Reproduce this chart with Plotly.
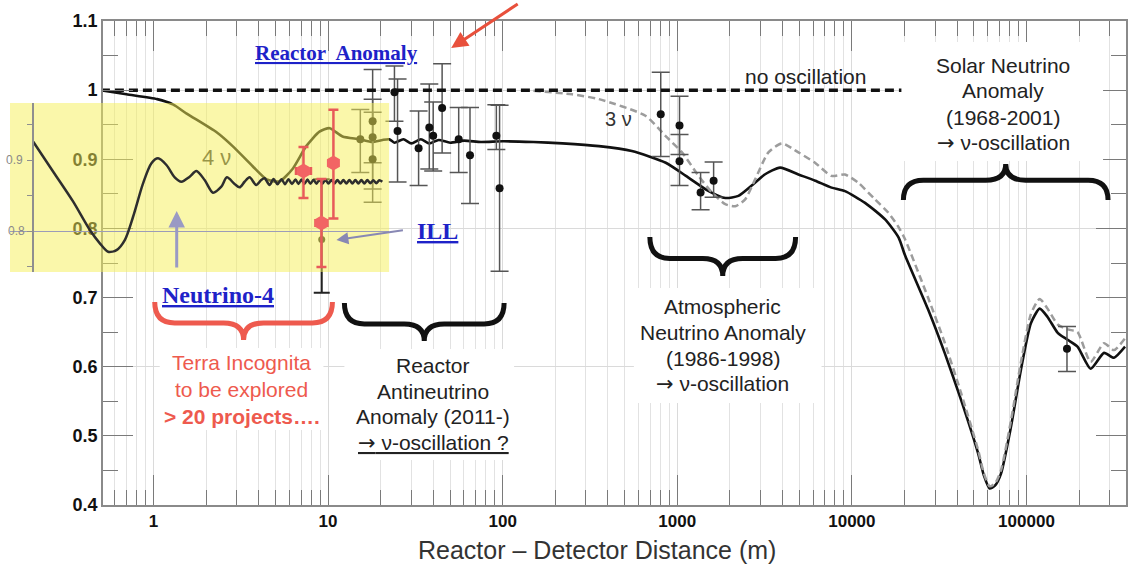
import plotly.graph_objects as go

# ---- data ----
# main oscillation curve (4 nu fit), distance in m
main_x = [0.5, 0.7, 1.05, 1.3, 1.55, 2.3, 2.84, 3.7, 4.45, 5.27, 6.26, 7.5, 8.93, 10.2, 12.1,
          15.1, 17.9, 20.5, 22.4, 24, 27, 30, 34, 38, 43, 50, 60, 75, 100, 150, 220, 356, 549,
          859, 1120, 1513, 1887, 2240, 2670, 3170, 3880, 4940, 6170, 7650, 9130, 11900, 15500,
          18500, 20100, 27300, 34000, 42200, 52800, 57000, 61500, 66000, 71400, 81500, 93000,
          106000, 119000, 132000, 151000, 172000, 196000, 233000, 278000, 317000, 367000]
main_y = [1.0, 0.994, 0.987, 0.979, 0.966, 0.939, 0.919, 0.890, 0.871, 0.868, 0.886, 0.919, 0.940,
          0.945, 0.933, 0.929, 0.925, 0.928, 0.929, 0.924, 0.929, 0.923, 0.929, 0.923, 0.928,
          0.924, 0.927, 0.925, 0.926, 0.925, 0.923, 0.919, 0.912, 0.895, 0.876, 0.854, 0.844,
          0.847, 0.862, 0.878, 0.888, 0.878, 0.869, 0.859, 0.854, 0.837, 0.813, 0.787, 0.762,
          0.683, 0.620, 0.552, 0.475, 0.443, 0.424, 0.428, 0.445, 0.513, 0.596, 0.663, 0.684,
          0.672, 0.649, 0.639, 0.629, 0.597, 0.620, 0.613, 0.629]

# 3 nu curve (grey dashed)
nu3_x = [150, 250, 356, 657, 855, 1064, 1324, 1578, 1883, 2147, 2448, 2792, 3326, 3964, 4940,
         6150, 7650, 9130, 10890, 13560, 16140, 18400, 20100, 27300, 34000, 42200, 52800, 57000,
         61500, 66000, 71400, 81500, 93000, 106000, 119000, 132000, 151000, 172000, 196000,
         233000, 278000, 317000, 367000]
nu3_y = [0.999, 0.994, 0.987, 0.963, 0.934, 0.910, 0.876, 0.852, 0.835, 0.832, 0.842, 0.871,
         0.910, 0.923, 0.910, 0.895, 0.876, 0.878, 0.866, 0.842, 0.823, 0.803, 0.785, 0.700,
         0.635, 0.562, 0.480, 0.446, 0.427, 0.431, 0.450, 0.522, 0.607, 0.676, 0.698, 0.684,
         0.661, 0.654, 0.650, 0.607, 0.634, 0.624, 0.641]

no_osc_x = [0.5, 21000]
no_osc_y = [1.0, 1.0]

# measurements
pt_x = [15.3, 18, 18, 18, 24, 25, 33, 38, 40, 45, 56, 65, 92, 96, 804, 1030, 1030, 1360, 1615, 170600]
pt_y = [0.929, 0.955, 0.932, 0.900, 0.997, 0.941, 0.916, 0.946, 0.934, 0.974, 0.929, 0.906,
        0.934, 0.858, 0.965, 0.949, 0.897, 0.852, 0.869, 0.626]
pt_hi = [0.043, 0.075, 0.055, 0.068, 0.038, 0.075, 0.054, 0.063, 0.049, 0.064, 0.046, 0.069,
         0.045, 0.12, 0.061, 0.042, 0.039, 0.029, 0.027, 0.032]
pt_lo = [0.048, 0.06, 0.075, 0.062, 0.042, 0.074, 0.054, 0.06, 0.051, 0.065, 0.048, 0.07,
         0.02, 0.12, 0.061, 0.042, 0.035, 0.025, 0.024, 0.033]

ill_x = [9.2]
ill_y = [0.784]
ill_hi = [0.087]
ill_lo = [0.077]

# Neutrino-4 inset (own L/E-like units)
n4c_x = [0.233, 0.433, 0.633, 0.80, 0.90, 0.983, 1.067, 1.15, 1.233, 1.333, 1.417, 1.483, 1.567,
         1.65, 1.717, 1.80, 1.867, 1.95, 2.033, 2.117, 2.173, 2.25, 2.30, 2.35, 2.40, 2.467,
         2.517, 2.55, 2.60, 2.64, 2.68, 2.72, 2.755, 2.79, 2.825, 2.86, 2.89, 2.92, 2.95, 2.98,
         3.01, 3.04, 3.07, 3.10, 3.13, 3.16, 3.19, 3.22, 3.25, 3.28, 3.31, 3.34, 3.37, 3.40,
         3.43, 3.46, 3.49, 3.52, 3.55, 3.58, 3.61, 3.64, 3.67, 3.70, 3.73]
n4c_y = [0.9258, 0.8835, 0.8413, 0.8014, 0.7827, 0.7708, 0.7732, 0.7873, 0.8201, 0.8672, 0.8954,
         0.9024, 0.893, 0.8756, 0.8694, 0.8765, 0.8845, 0.8718, 0.854, 0.8624, 0.8756, 0.8662,
         0.8615, 0.8694, 0.8756, 0.8648, 0.8718, 0.8742, 0.8648, 0.8732, 0.8658, 0.8730,
         0.8660, 0.8728, 0.8662, 0.8726, 0.8663, 0.8725, 0.8664, 0.8724, 0.8665, 0.8723,
         0.8666, 0.8722, 0.8667, 0.8721, 0.8668, 0.8720, 0.8669, 0.8719, 0.8669, 0.8719,
         0.8670, 0.8718, 0.8670, 0.8718, 0.8671, 0.8717, 0.8671, 0.8717, 0.8672, 0.8716,
         0.8672, 0.8716, 0.8694]

n4_x = [2.94, 3.12, 3.24]
n4_y = [0.8845, 0.8113, 0.8958]
n4_hi = [0.034, 0.062, 0.075]
n4_lo = [0.038, 0.062, 0.078]
n4_xerr = [0.075, 0.06, 0.0]

x_range_log = [-0.29, 5.57]
inset_y_range = [0.7423, 0.9803]
inset_x_range = [0, 3.8]

# text blocks
solar_lines = ["Solar Neutrino", "Anomaly", "(1968-2001)", "→ ν-oscillation"]
atmo_lines = ["Atmospheric", "Neutrino Anomaly", "(1986-1998)", "→ ν-oscillation"]
reactor_lines = ["Reactor", "Antineutrino", "Anomaly (2011-)", "<u>→ ν-oscillation ?</u>"]
terra_lines = ["Terra Incognita", "to be explored", "<b>&gt; 20 projects….</b>"]

# ---- page geometry ----
W, H = 1131, 573
ML, MR, MT, MB = 8, 3, 21, 68
PW = W - ML - MR
PH = H - MT - MB


def px(x):
    return (x - ML) / PW


def py(y):
    return (H - MB - y) / PH


def brace(x0, x1, y0, y1):
    # curly brace, ends at y0, tip at y1 (pixel coords)
    xm = (x0 + x1) / 2
    ym = y0 + (y1 - y0) * 0.55
    w = 20

    def P(a, b):
        return f"{px(a):.5f},{py(b):.5f}"
    return (f"M {P(x0, y0)} Q {P(x0, ym)} {P(x0 + w, ym)} L {P(xm - w, ym)} "
            f"Q {P(xm, ym)} {P(xm, y1)} Q {P(xm, ym)} {P(xm + w, ym)} "
            f"L {P(x1 - w, ym)} Q {P(x1, ym)} {P(x1, y0)}")


SANS = "Liberation Sans"
SERIF = "Liberation Serif"
BLUE = "#1e22c8"
RED = "#ee5a4e"

fig = go.Figure()

fig.add_trace(go.Scatter(x=main_x, y=main_y, mode="lines",
                         line=dict(color="#111", width=2.6, shape="spline", smoothing=0.6)))
fig.add_trace(go.Scatter(x=nu3_x, y=nu3_y, mode="lines",
                         line=dict(color="#9c9c9c", width=2.5, dash="7px,4px", shape="spline",
                                   smoothing=0.6)))
fig.add_trace(go.Scatter(x=no_osc_x, y=no_osc_y, mode="lines", yaxis="y2",
                         line=dict(color="#111", width=3.5, dash="9px,5px")))
fig.add_trace(go.Scatter(x=pt_x, y=pt_y, mode="markers",
                         marker=dict(color="#111", size=8),
                         error_y=dict(type="data", symmetric=False, array=pt_hi, arrayminus=pt_lo,
                                      color="#555", thickness=1.5, width=9)))
fig.add_trace(go.Scatter(x=ill_x, y=ill_y, mode="markers",
                         marker=dict(color="#222", size=7),
                         error_y=dict(type="data", symmetric=False, array=ill_hi, arrayminus=ill_lo,
                                      color="#222", thickness=2, width=8)))
fig.add_trace(go.Scatter(x=[2.30], y=[0.899], mode="text", text=["4 ν"],
                         textfont=dict(family=SANS, size=22, color="#3a3a3a")))

# yellow Neutrino-4 inset
fig.add_trace(go.Scatter(x=[0, 1, 1, 0, 0], y=[0, 0, 1, 1, 0], xaxis="x3", yaxis="y3",
                         mode="lines", fill="toself", fillcolor="rgba(245,239,85,0.5)",
                         line=dict(width=0)))
fig.add_trace(go.Scatter(x=n4c_x, y=n4c_y, xaxis="x4", yaxis="y4", mode="lines",
                         line=dict(color="#2e2e2e", width=2.5, shape="spline", smoothing=0.8)))
fig.add_trace(go.Scatter(x=n4_x, y=n4_y, xaxis="x4", yaxis="y4", mode="markers",
                         marker=dict(color="#f26464", size=15, symbol="hexagon"),
                         error_y=dict(type="data", symmetric=False, array=n4_hi, arrayminus=n4_lo,
                                      color="#e85a5a", thickness=2.5, width=5),
                         error_x=dict(type="data", array=n4_xerr, color="#e85a5a",
                                      thickness=2.5, width=4)))

tick_font = dict(family=SANS, size=17, color="#111", weight="bold")

fig.update_layout(
    width=W, height=H,
    margin=dict(l=ML, r=MR, t=MT, b=MB),
    paper_bgcolor="white", plot_bgcolor="rgba(0,0,0,0)",
    showlegend=False, hovermode=False, separators=".",
    xaxis=dict(type="log", domain=[px(103), 1], range=x_range_log, anchor="y",
               dtick=1, tick0=0, exponentformat="none", ticks="inside", ticklen=30,
               tickwidth=1.2, tickcolor="#7a7a7a", showline=True, linecolor="#8a8a8a",
               linewidth=1.5, mirror="ticks", showgrid=True, gridcolor="#dadada",
               zeroline=False, tickfont=tick_font,
               minor=dict(dtick="D1", ticks="inside", ticklen=15, tickcolor="#7a7a7a",
                          showgrid=True, gridcolor="#e2e2e2")),
    yaxis=dict(domain=[0, 1], range=[0.4, 1.1], anchor="x", dtick=0.1, tick0=0.4,
               ticks="inside", ticklen=30, tickwidth=1.2, tickcolor="#7a7a7a",
               showline=True, linecolor="#8a8a8a", linewidth=1.5, mirror="ticks",
               showgrid=False, zeroline=False, tickfont=dict(tick_font, size=18),
               minor=dict(dtick=0.05, tick0=0.4, ticks="inside", ticklen=15,
                          tickcolor="#7a7a7a")),
    yaxis2=dict(overlaying="y", anchor="x", range=[0.4, 1.1], tickvals=[0.6, 0.8, 1.0],
                showticklabels=False, ticks="", showgrid=True, gridcolor="#dadada",
                showline=False, zeroline=False),
    xaxis3=dict(domain=[px(10), px(390)], range=[0, 1], visible=False, anchor="y3"),
    yaxis3=dict(domain=[py(272), py(103)], range=[0, 1], visible=False, anchor="x3"),
    xaxis4=dict(domain=[px(10), px(390)], range=inset_x_range, visible=False, anchor="y4"),
    yaxis4=dict(domain=[py(272), py(103)], range=inset_y_range, anchor="free",
                position=px(33), showline=True, linecolor="#8f8f8f", linewidth=1.5,
                ticks="outside", ticklen=5, tickcolor="#8f8f8f", tickmode="array",
                tickvals=[0.8], ticktext=["0.8"],
                tickfont=dict(family=SANS, size=12, color="#8a8a8a"),
                showgrid=True, gridcolor="#9c9cb8", gridwidth=1.2, zeroline=False,
                minor=dict(tickmode="array", tickvals=[0.75, 0.85, 0.9, 0.95],
                           ticks="outside", ticklen=5, tickcolor="#8f8f8f", showgrid=False)),
)

# white boxes behind the text blocks, then the braces
boxes = [(903, 1105, 42, 161), (635, 823, 288, 403), (345, 515, 349, 460), (160, 324, 348, 430)]
shapes = [dict(type="rect", xref="paper", yref="paper", x0=px(a), x1=px(b), y0=py(d), y1=py(c),
               fillcolor="white", line=dict(width=0), layer="above")
          for a, b, c, d in boxes]
braces = [
    (brace(155, 333, 302, 340), RED),
    (brace(345, 505, 303, 341), "#111"),
    (brace(651, 797, 237, 276), "#111"),
    (brace(905, 1110, 200, 164), "#111"),
]
shapes += [dict(type="path", path=p, xref="paper", yref="paper",
                line=dict(color=c, width=5), layer="above") for p, c in braces]
fig.update_layout(shapes=shapes)


def note(text, x, y, size=21, color="#222", family=SANS, **kw):
    kw.setdefault("xanchor", "center")
    kw.setdefault("yanchor", "middle")
    # the arrow glyph in Liberation Sans is tiny, borrow DejaVu's
    text = text.replace("→", "<span style='font-family:DejaVu Sans'>→</span>")
    fig.add_annotation(text=text, x=px(x), y=py(y), xref="paper", yref="paper",
                       showarrow=False, font=dict(family=family, size=size, color=color), **kw)


def block(lines, x, y0, step, **kw):
    for i, t in enumerate(lines):
        note(t, x, y0 + i * step, **kw)


block(solar_lines, 1005, 65, 26)
block(atmo_lines, 724, 307, 25.7)
block(reactor_lines, 434, 365, 26)
block(terra_lines, 242, 362, 27, color=RED)

note("no oscillation", 807, 77, size=21)
note("3 ν", 620, 119, size=20, color="#333")
note("<b><u>Reactor&nbsp; Anomaly</u></b>", 337, 53, size=21, color=BLUE, family=SERIF)
note("<b><u>ILL</u></b>", 438, 231, size=24, color=BLUE, family=SERIF)
note("<b><u>Neutrino-4</u></b>", 218, 295, size=24, color=BLUE, family=SERIF)
note("0.9", 25.5, 160, size=12, color="#8a8a8a", xanchor="right")
note("Reactor – Detector Distance (m)", 598, 550, size=25, color="#333")

# arrows
fig.add_annotation(x=px(452), y=py(48), xref="paper", yref="paper", text="", showarrow=True,
                   ax=68, ay=-45, arrowhead=2, arrowsize=1.1, arrowwidth=3, arrowcolor="#e8503c")
fig.add_annotation(x=px(337), y=py(240), xref="paper", yref="paper", text="", showarrow=True,
                   ax=68, ay=-10, arrowhead=2, arrowsize=1.2, arrowwidth=2, arrowcolor="#8888b4")
fig.add_annotation(x=px(177), y=py(211), xref="paper", yref="paper", text="", showarrow=True,
                   ax=0, ay=58, arrowhead=2, arrowsize=1.1, arrowwidth=3, arrowcolor="#9a9ac4")

# drop the browser's default body margin so the figure sits at the page origin
fig.write_html("out.html", config={"displayModeBar": False},
               post_script="document.body.style.margin='0px';")
